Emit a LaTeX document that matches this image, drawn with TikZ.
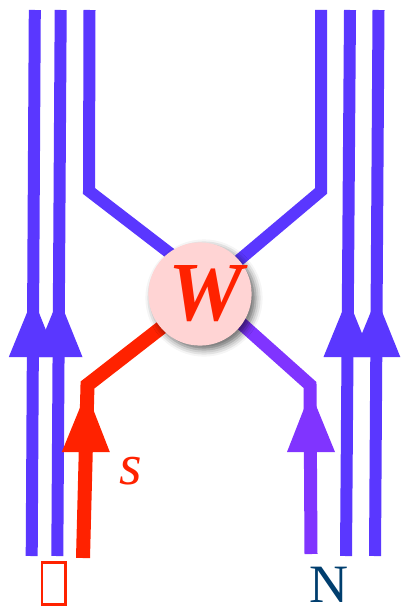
\documentclass[tikz,border=0pt]{standalone}
\usepackage{fontspec}
\setmainfont{Liberation Serif}
\usetikzlibrary{shadows.blur}
\definecolor{lineblue}{RGB}{90,55,255}
\definecolor{linepurple}{RGB}{128,52,255}
\definecolor{linered}{RGB}{255,34,0}
\definecolor{vpink}{RGB}{255,212,212}
\definecolor{nblue}{RGB}{0,62,110}
\begin{document}
\begin{tikzpicture}[x=1pt,y=-1pt,
  bluel/.style={draw=lineblue,line width=12pt,line join=miter},
  redl/.style={draw=linered,line width=14pt,line join=miter},
  purl/.style={draw=linepurple,line width=13pt,line join=miter},
  bluehead/.style={fill=lineblue},
  redhead/.style={fill=linered},
  purhead/.style={fill=linepurple},
  vertex/.style={circle,fill=vpink,minimum size=102pt,inner sep=0pt,
    blur shadow={shadow xshift=4pt,shadow yshift=-4pt,shadow blur radius=7pt,shadow opacity=60},
    text=linered,font=\fontsize{84}{84}\selectfont\bfseries\itshape},
  lbl/.style={inner sep=0pt}
]
\useasboundingbox (0,0) rectangle (401,610);
% coordinates
\coordinate (L1t) at (34.8,10);  \coordinate (L1b) at (31.7,556);
\coordinate (L2t) at (60.7,10);  \coordinate (L2b) at (57.3,556);
\coordinate (L3t) at (89.5,10);  \coordinate (L3c) at (89,191);  \coordinate (L3e) at (180,261);
\coordinate (R1t) at (321,10);   \coordinate (R1c) at (321,191); \coordinate (R1e) at (225,272);
\coordinate (R2t) at (350,10);   \coordinate (R2b) at (346,556);
\coordinate (R3t) at (378.5,10); \coordinate (R3b) at (375,556);
\coordinate (Sb) at (83,558);    \coordinate (Sc) at (87.5,385); \coordinate (Se) at (175,317);
\coordinate (Nb) at (311,554);   \coordinate (Nc) at (310,385);  \coordinate (Ne) at (225,309);
% lines
\draw[bluel] (L1b) -- (L1t);
\draw[bluel] (L2b) -- (L2t);
\draw[bluel] (L3t) -- (L3c) -- (L3e);
\draw[bluel] (R1t) -- (R1c) -- (R1e);
\draw[bluel] (R2b) -- (R2t);
\draw[bluel] (R3b) -- (R3t);
\draw[redl] (Sb) -- (Sc) -- (Se);
\draw[purl] (Nb) -- (Nc) -- (Ne);
% arrowheads
\fill[bluehead] (8.8,357) -- (56.8,357) -- (33,298) -- cycle;
\fill[bluehead] (34.5,357) -- (82.5,357) -- (58.7,298) -- cycle;
\fill[bluehead] (323.5,357) -- (371.5,357) -- (347.7,298) -- cycle;
\fill[bluehead] (352.3,357) -- (400.3,357) -- (376.5,298) -- cycle;
\fill[redhead] (61.8,452) -- (109.8,452) -- (86.4,392) -- cycle;
\fill[purhead] (287,452) -- (335,452) -- (310.5,392) -- cycle;
% vertex
\node[vertex] (W) at (200,294) {\hspace*{12pt}\raisebox{-3pt}{W}};
% labels
\node[lbl,text=linered,font=\fontsize{58}{58}\selectfont\itshape] (s) at (131,471) {s};
\node[lbl,text=nblue,font=\fontsize{54}{54}\selectfont] (N) at (329,584.5) {N};
\node[draw=linered,line width=2.7pt,minimum width=23.5pt,minimum height=42.5pt,inner sep=0pt] (box) at (53.7,583.5) {};
\end{tikzpicture}
\end{document}
